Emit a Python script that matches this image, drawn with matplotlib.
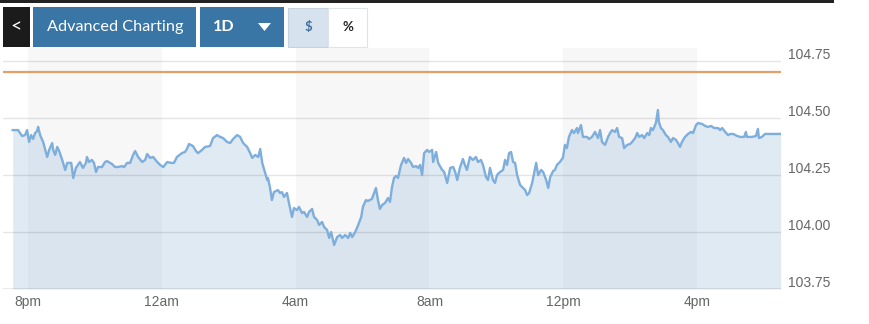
import matplotlib
matplotlib.use("Agg")
import matplotlib.pyplot as plt
from matplotlib.patches import Rectangle, Polygon
from matplotlib import transforms

# hours after 8pm, and price
hours = [-0.46, -0.30, -0.18, -0.09, -0.03, 0.03, 0.09, 0.15, 0.21, 0.27, 0.30, 0.36, 0.45,
         0.57, 0.63, 0.72, 0.75, 0.81, 0.87, 0.93, 1.02, 1.11, 1.17, 1.29, 1.35, 1.43, 1.55,
         1.64, 1.73, 1.76, 1.82, 1.91, 1.97, 2.03, 2.09, 2.21, 2.30, 2.36, 2.51, 2.60, 2.69,
         2.81, 2.87, 2.96, 3.05, 3.14, 3.20, 3.29, 3.41, 3.50, 3.56, 3.65, 3.74, 3.86, 3.95,
         4.04, 4.16, 4.28, 4.36, 4.45, 4.60, 4.69, 4.75, 4.81, 4.93, 5.02, 5.08, 5.20, 5.29,
         5.44, 5.53, 5.65, 5.74, 5.83, 5.95, 6.04, 6.13, 6.25, 6.34, 6.43, 6.55, 6.64, 6.70,
         6.79, 6.88, 6.94, 7.00, 7.09, 7.15, 7.17, 7.23, 7.29, 7.35, 7.47, 7.53, 7.59, 7.65,
         7.74, 7.80, 7.89, 7.95, 8.04, 8.10, 8.19, 8.25, 8.34, 8.40, 8.49, 8.55, 8.64, 8.70,
         8.79, 8.85, 8.94, 9.00, 9.06, 9.15, 9.24, 9.33, 9.39, 9.48, 9.57, 9.63, 9.69, 9.78,
         9.87, 9.96, 10.01, 10.10, 10.16, 10.28, 10.40, 10.46, 10.52, 10.58, 10.67, 10.76,
         10.82, 10.88, 10.94, 11.00, 11.06, 11.15, 11.24, 11.30, 11.36, 11.45, 11.51, 11.60,
         11.66, 11.72, 11.78, 11.84, 11.93, 11.99, 12.08, 12.11, 12.20, 12.26, 12.38, 12.44,
         12.53, 12.62, 12.71, 12.77, 12.83, 12.91, 13.00, 13.06, 13.12, 13.21, 13.30, 13.39,
         13.45, 13.54, 13.60, 13.69, 13.75, 13.81, 13.90, 13.96, 14.02, 14.11, 14.20, 14.26,
         14.32, 14.38, 14.44, 14.50, 14.56, 14.62, 14.71, 14.80, 14.86, 14.92, 14.98, 15.07,
         15.13, 15.19, 15.25, 15.34, 15.40, 15.49, 15.55, 15.61, 15.70, 15.75, 15.81, 15.90,
         15.99, 16.05, 16.11, 16.17, 16.26, 16.32, 16.41, 16.44, 16.53, 16.59, 16.71, 16.77,
         16.86, 16.95, 17.04, 17.10, 17.16, 17.25, 17.34, 17.40, 17.46, 17.55, 17.61, 17.67,
         17.76, 17.82, 17.91, 18.00, 18.06, 18.15, 18.21, 18.27, 18.36, 18.42, 18.51, 18.57,
         18.62, 18.68, 18.77, 18.83, 18.86, 18.92, 18.98, 19.07, 19.13, 19.22, 19.28, 19.37,
         19.43, 19.49, 19.55, 19.64, 19.73, 19.82, 19.88, 19.97, 20.03, 20.15, 20.24, 20.33,
         20.42, 20.51, 20.63, 20.69, 20.75, 20.84, 20.93, 20.99, 21.08, 21.20, 21.29, 21.41,
         21.46, 21.49, 21.64, 21.76, 21.82, 21.85, 21.94, 22.03, 22.24, 22.50]
price = [104.447, 104.447, 104.421, 104.425, 104.447, 104.395, 104.425, 104.408, 104.434, 104.443,
         104.461, 104.425, 104.395, 104.329, 104.360, 104.390, 104.360, 104.338, 104.373, 104.355,
         104.316, 104.272, 104.303, 104.303, 104.237, 104.281, 104.307, 104.281, 104.303, 104.329,
         104.307, 104.316, 104.303, 104.263, 104.285, 104.285, 104.307, 104.311, 104.298, 104.285,
         104.285, 104.289, 104.285, 104.303, 104.303, 104.338, 104.355, 104.329, 104.307, 104.316,
         104.342, 104.325, 104.329, 104.307, 104.294, 104.285, 104.307, 104.303, 104.303, 104.329,
         104.346, 104.351, 104.364, 104.386, 104.377, 104.355, 104.346, 104.360, 104.373, 104.377,
         104.412, 104.425, 104.417, 104.412, 104.395, 104.390, 104.408, 104.425, 104.417, 104.390,
         104.373, 104.346, 104.325, 104.338, 104.329, 104.364, 104.303, 104.259, 104.228, 104.237,
         104.197, 104.140, 104.175, 104.184, 104.171, 104.175, 104.154, 104.171, 104.127, 104.066,
         104.105, 104.096, 104.110, 104.083, 104.088, 104.066, 104.088, 104.101, 104.066, 104.053,
         104.031, 104.044, 104.022, 104.009, 103.974, 104.000, 103.943, 103.978, 103.987, 103.974,
         103.987, 103.974, 103.996, 103.978, 104.000, 104.031, 104.066, 104.110, 104.140, 104.136,
         104.145, 104.193, 104.140, 104.101, 104.118, 104.127, 104.149, 104.132, 104.197, 104.237,
         104.246, 104.237, 104.294, 104.325, 104.303, 104.320, 104.303, 104.285, 104.289, 104.281,
         104.294, 104.250, 104.346, 104.360, 104.351, 104.360, 104.307, 104.351, 104.303, 104.272,
         104.263, 104.215, 104.281, 104.285, 104.263, 104.228, 104.281, 104.320, 104.294, 104.272,
         104.329, 104.316, 104.329, 104.307, 104.316, 104.294, 104.241, 104.228, 104.281, 104.228,
         104.215, 104.250, 104.263, 104.272, 104.316, 104.294, 104.346, 104.351, 104.307, 104.303,
         104.250, 104.206, 104.193, 104.184, 104.162, 104.171, 104.215, 104.259, 104.303, 104.250,
         104.272, 104.263, 104.228, 104.193, 104.241, 104.268, 104.272, 104.294, 104.307, 104.325,
         104.382, 104.368, 104.417, 104.447, 104.434, 104.456, 104.434, 104.469, 104.417, 104.417,
         104.408, 104.417, 104.439, 104.412, 104.447, 104.395, 104.382, 104.417, 104.434, 104.447,
         104.439, 104.456, 104.417, 104.412, 104.368, 104.382, 104.386, 104.395, 104.412, 104.434,
         104.417, 104.425, 104.412, 104.434, 104.425, 104.456, 104.447, 104.478, 104.535, 104.482,
         104.456, 104.447, 104.425, 104.417, 104.395, 104.412, 104.404, 104.390, 104.373, 104.395,
         104.417, 104.430, 104.439, 104.434, 104.469, 104.478, 104.474, 104.465, 104.461, 104.465,
         104.456, 104.456, 104.447, 104.456, 104.439, 104.425, 104.430, 104.430, 104.421, 104.417,
         104.417, 104.439, 104.417, 104.417, 104.421, 104.452, 104.412, 104.417, 104.430, 104.430,
         104.430]

tick_hours = [0, 4, 8, 12, 16, 20]
tick_labels = ["8pm", "12am", "4am", "8am", "12pm", "4pm"]
band_starts = [0, 8, 16]
y_ticks = [103.75, 104.00, 104.25, 104.50, 104.75]
ref_level = 104.70

LINE = "#7eaedb"; FILL = "#8fb4d6"; BAND = "#f7f7f7"; ORANGE = "#e49f68"
TXT = "#666666"; BLUE_BTN = "#3975a5"

W, H = 870, 324
fig = plt.figure(figsize=(W / 100, H / 100), dpi=100, facecolor="white")

# chart axes in pixel-derived position
ax = fig.add_axes([3 / W, 35 / H, 778 / W, 241 / H])
ax.set_xlim(-0.75, 22.51)
ax.set_ylim(103.75, 104.807)
for s in ax.spines.values():
    s.set_visible(False)

for b in band_starts:
    ax.axvspan(b, b + 4, color=BAND, zorder=0, lw=0)

ax.fill_between(hours, price, 103.75, color=FILL, alpha=0.27, lw=0, zorder=1)
for v in y_ticks[1:]:
    ax.axhline(v, color="black", alpha=0.1, lw=1, zorder=2)
ax.axhline(y_ticks[0], color="black", alpha=0.1, lw=1.2, zorder=2)
ax.axhline(ref_level, color=ORANGE, lw=1.6, zorder=3)
ax.plot(hours, price, color=LINE, lw=1.7, zorder=4, solid_joinstyle="round")

ax.set_yticks([])
ax.set_xticks(tick_hours)
ax.set_xticklabels(tick_labels, fontsize=10, color=TXT, family="Liberation Sans")
ax.tick_params(axis="x", length=0, pad=4)

ylab_tr = transforms.offset_copy(
    transforms.blended_transform_factory(ax.transAxes, ax.transData),
    fig=fig, x=7, y=6, units="dots")
for v in y_ticks:
    ax.text(1.0, v, f"{v:.2f}", transform=ylab_tr, ha="left", va="center",
            fontsize=10, color=TXT, family="Liberation Sans")

# toolbar overlay in pixel coordinates
ui = fig.add_axes([0, 0, 1, 1], zorder=-1)
ui.set_xlim(0, W); ui.set_ylim(H, 0); ui.axis("off")
ui.add_patch(Rectangle((0, 0), 834, 3, color="#222222", lw=0))
ui.add_patch(Rectangle((3, 7), 27, 40, color="#1b1b1b", lw=0))
ui.text(16.5, 27, "<", color="white", fontsize=14, ha="center", va="center",
        family="Lato")
ui.add_patch(Rectangle((33, 7), 163, 40, color=BLUE_BTN, lw=0))
ui.text(115, 27, "Advanced Charting", color="white", fontsize=11.7,
        ha="center", va="center", family="Lato")
ui.add_patch(Rectangle((200, 7), 84, 40, color=BLUE_BTN, lw=0))
ui.text(224, 27, "1D", color="white", fontsize=11.7, ha="center", va="center",
        family="Lato", fontweight="bold")
ui.add_patch(Polygon([(258, 23), (271, 23), (264.5, 31)], closed=True,
                     color="white", lw=0))
ui.add_patch(Rectangle((288, 7.5), 40, 39, facecolor="#d6e3ef", edgecolor="#c5d3e0", lw=0.8))
ui.text(308, 27, "$", color="#3d72a3", fontsize=9.5, ha="center", va="center",
        family="Lato", fontweight="bold")
ui.add_patch(Rectangle((328, 7.5), 39, 39, facecolor="white", edgecolor="#dfe4ea", lw=0.8))
ui.text(347.5, 27, "%", color="#222222", fontsize=9.5, ha="center", va="center",
        family="Lato", fontweight="bold")

fig.savefig("out.png", dpi=100, facecolor="white")
